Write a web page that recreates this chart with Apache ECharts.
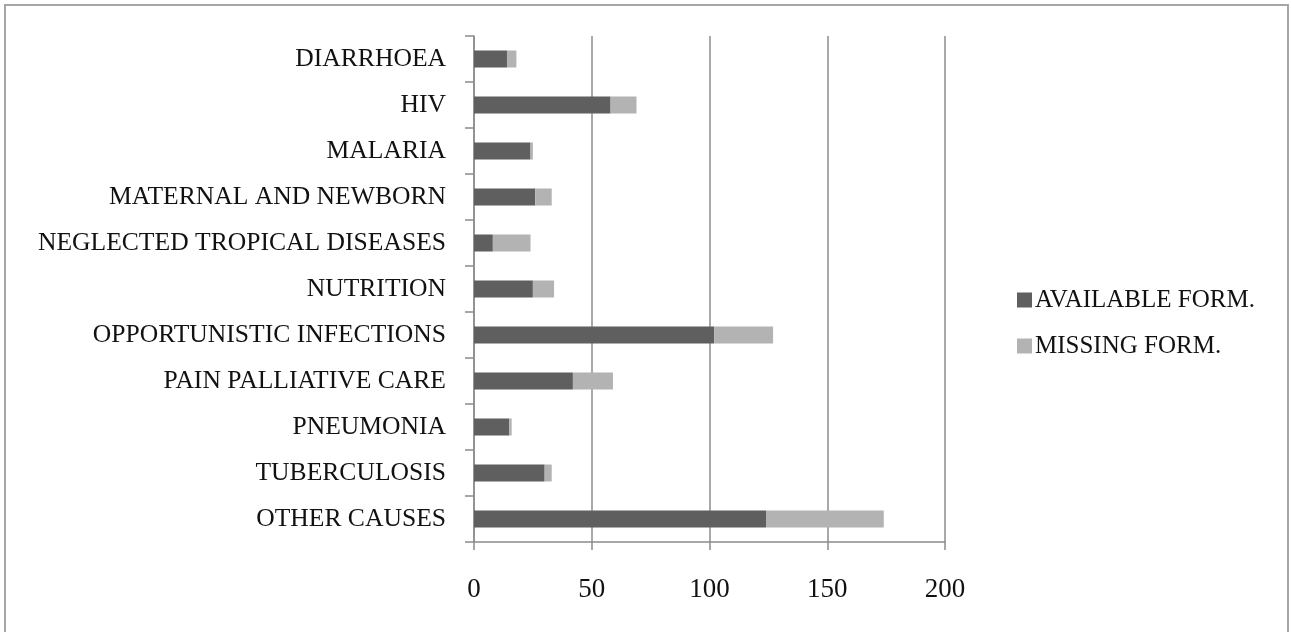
<!DOCTYPE html>
<html>
<head>
<meta charset="utf-8">
<script src="https://cdn.jsdelivr.net/npm/echarts@6/dist/echarts.min.js"></script>
<style>
html,body{margin:0;padding:0;background:#fff;}
#chart{width:1291px;height:632px;}
</style>
</head>
<body>
<div id="chart"></div>
<script>
const categories = ["DIARRHOEA","HIV","MALARIA","MATERNAL AND NEWBORN","NEGLECTED TROPICAL DISEASES","NUTRITION","OPPORTUNISTIC INFECTIONS","PAIN PALLIATIVE CARE","PNEUMONIA","TUBERCULOSIS","OTHER CAUSES"];
const availableForm = [14, 58, 24, 26, 8, 25, 102, 42, 15, 30, 124];
const missingForm = [4, 11, 1, 7, 16, 9, 25, 17, 1, 3, 50];
const seriesNames = ["AVAILABLE FORM.", "MISSING FORM."];
const xTicks = {min: 0, max: 200, interval: 50};

const FONT = "'Liberation Serif', serif";
const GRAY = "#8c8c8c";
const chart = echarts.init(document.getElementById('chart'));
chart.setOption({
  animation: false,
  backgroundColor: '#fff',
  graphic: [{
    type: 'rect', shape: {x: 5, y: 5, width: 1283, height: 640},
    style: {fill: 'none', stroke: '#a6a6a6', lineWidth: 2}, silent: true
  }],
  grid: {left: 474, right: 346, top: 36, bottom: 90},
  legend: {
    orient: 'vertical', left: 1012, top: 282,
    itemWidth: 15, itemHeight: 15, itemGap: 20,
    icon: 'rect',
    textStyle: {fontFamily: FONT, fontSize: 25, color: '#111', lineHeight: 26, padding: [0,0,0,-2]},
    data: seriesNames
  },
  xAxis: {
    type: 'value', min: xTicks.min, max: xTicks.max, interval: xTicks.interval,
    axisLine: {show: true, lineStyle: {color: GRAY, width: 1.5}},
    axisTick: {show: true, length: 8, lineStyle: {color: GRAY, width: 1.5}},
    splitLine: {show: true, lineStyle: {color: GRAY, width: 1.5}},
    axisLabel: {fontFamily: FONT, fontSize: 27, color: '#111', margin: 34}
  },
  yAxis: {
    type: 'category', data: categories, inverse: true,
    axisLine: {show: true, lineStyle: {color: GRAY, width: 1.5}},
    axisTick: {show: true, length: 9, lineStyle: {color: GRAY, width: 1.5}},
    axisLabel: {fontFamily: FONT, fontSize: 25.6, color: '#111', margin: 28}
  },
  series: [
    {name: seriesNames[0], type: 'bar', stack: 'a', data: availableForm, barWidth: 17,
     itemStyle: {color: '#5f5f5f'}},
    {name: seriesNames[1], type: 'bar', stack: 'a', data: missingForm, barWidth: 17,
     itemStyle: {color: '#b3b3b3'}}
  ]
});
</script>
</body>
</html>
